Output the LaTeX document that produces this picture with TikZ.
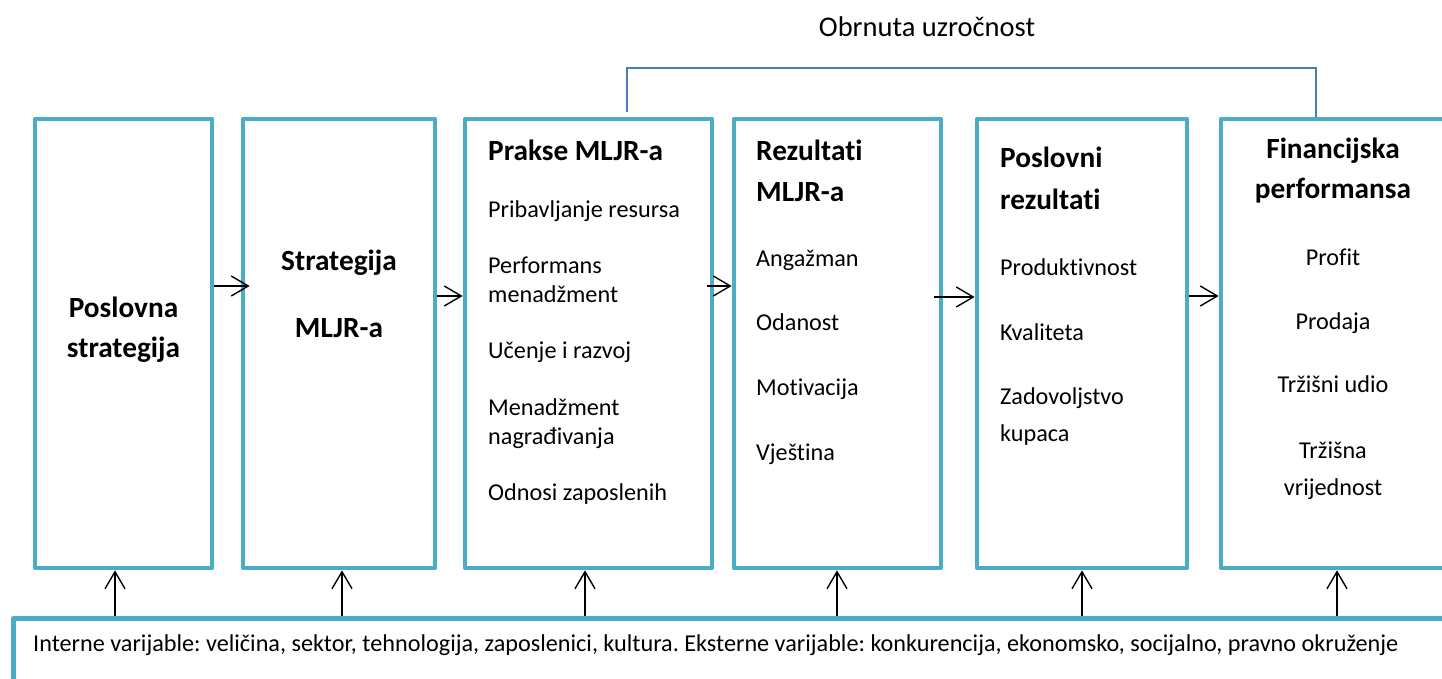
\documentclass[tikz,border=0pt]{standalone}
\usepackage{fontspec}
\setmainfont{Carlito}[Ligatures={NoCommon}]
\usetikzlibrary{arrows.meta}
\definecolor{boxblue}{HTML}{4BACC6}
\definecolor{linkblue}{HTML}{4A7EBB}
\frenchspacing
\begin{document}
\begin{tikzpicture}[x=1pt,y=-1pt,
  boxnode/.style={draw=boxblue,line width=4.7pt,line join=round,minimum height=449pt,inner sep=0pt},
  arr/.style={draw=black,line width=1.4pt,-{Straight Barb[length=17pt,width=20pt]}},
  rev/.style={draw=linkblue,line width=1.5pt},
  hd/.style={inner sep=0pt,font=\fontsize{29.3}{31}\selectfont\bfseries},
  it/.style={inner sep=0pt,font=\fontsize{24.2}{26}\selectfont},
  hdl/.style={hd,anchor=base west},
  itl/.style={it,anchor=base west},
  hdc/.style={hd,anchor=base},
  itc/.style={it,anchor=base}]
\clip (0,0) rectangle (1442,679);
\fill[white] (0,0) rectangle (1442,679);
% boxes
\node[boxnode,minimum width=177pt] (b1) at (123.5,343.5) {};
\node[boxnode,minimum width=192pt] (b2) at (339,343.5) {};
\node[boxnode,minimum width=247pt] (b3) at (588.5,343.5) {};
\node[boxnode,minimum width=207pt] (b4) at (837.5,343.5) {};
\node[boxnode,minimum width=210pt] (b5) at (1082,343.5) {};
\node[boxnode,minimum width=224pt] (b6) at (1333,343.5) {};
\node[draw=boxblue,line width=4.7pt,line join=round,inner sep=0pt,minimum width=1450pt,minimum height=90pt,anchor=north west] (env) at (11,616) {};
% title and reverse link
\node[inner sep=0pt,font=\fontsize{28.5}{30}\selectfont,anchor=base] (title) at (927,37) {Obrnuta uzročnost};
\coordinate (r1) at (627,112);
\coordinate (r2) at (1316,68);
\draw[rev] (r1) |- (r2) -- (b6.north -| r2);
% box texts
\node[hdc] (t1a) at (123.5,317) {Poslovna};
\node[hdc] (t1b) at (123.5,357) {strategija};
\node[hdc] (t2a) at (339,270) {Strategija};
\node[hdc] (t2b) at (339,337) {MLJR-a};
\node[hdl] (t3h) at (488,161) {Prakse MLJR-a};
\node[itl] (t3a) at (488,217) {Pribavljanje resursa};
\node[itl] (t3b) at (488,273) {Performans};
\node[itl] (t3c) at (488,302) {menadžment};
\node[itl] (t3d) at (488,358) {Učenje i razvoj};
\node[itl] (t3e) at (488,415) {Menadžment};
\node[itl] (t3f) at (488,444) {nagrađivanja};
\node[itl] (t3g) at (488,500) {Odnosi zaposlenih};
\node[hdl] (t4h) at (756,161) {Rezultati};
\node[hdl] (t4i) at (756,201) {MLJR-a};
\node[itl] (t4a) at (756,266) {Angažman};
\node[itl] (t4b) at (756,330) {Odanost};
\node[itl] (t4c) at (756,395) {Motivacija};
\node[itl] (t4d) at (756,460) {Vještina};
\node[hdl] (t5h) at (1000,168) {Poslovni};
\node[hdl] (t5i) at (1000,209) {rezultati};
\node[itl] (t5a) at (1000,275) {Produktivnost};
\node[itl] (t5b) at (1000,340) {Kvaliteta};
\node[itl] (t5c) at (1000,404) {Zadovoljstvo};
\node[itl] (t5d) at (1000,441) {kupaca};
\node[hdc] (t6h) at (1333,159) {Financijska};
\node[hdc] (t6i) at (1333,199) {performansa};
\node[itc] (t6a) at (1333,265) {Profit};
\node[itc] (t6b) at (1333,329) {Prodaja};
\node[itc] (t6c) at (1333,392) {Tržišni udio};
\node[itc] (t6d) at (1333,458) {Tržišna};
\node[itc] (t6e) at (1333,495) {vrijednost};
\node[itl] (tenv) at (33,651) {Interne varijable: veličina, sektor, tehnologija, zaposlenici, kultura. Eksterne varijable: konkurencija, ekonomsko, socijalno, pravno okruženje};
% horizontal arrows
\coordinate (h1) at (0,286);
\coordinate (h2) at (0,296);
\coordinate (h3) at (0,286);
\coordinate (h4) at (0,297);
\coordinate (h5) at (0,296);
\draw[arr] (b1.east |- h1) -- ([xshift=9pt]b2.west |- h1);
\draw[arr] (b2.east |- h2) -- (b3.west |- h2);
\draw[arr] ([xshift=-7pt]b3.east |- h3) -- (b4.west |- h3);
\draw[arr] ([xshift=-9pt]b4.east |- h4) -- (b5.west |- h4);
\draw[arr] (b5.east |- h5) -- (b6.west |- h5);
% vertical arrows
\coordinate (v1) at (115,0);
\coordinate (v2) at (342,0);
\coordinate (v3) at (585,0);
\coordinate (v4) at (837,0);
\coordinate (v5) at (1082,0);
\coordinate (v6) at (1337,0);
\draw[arr] (env.north -| v1) -- (b1.south -| v1);
\draw[arr] (env.north -| v2) -- (b2.south -| v2);
\draw[arr] (env.north -| v3) -- (b3.south -| v3);
\draw[arr] (env.north -| v4) -- (b4.south -| v4);
\draw[arr] (env.north -| v5) -- (b5.south -| v5);
\draw[arr] (env.north -| v6) -- (b6.south -| v6);
\end{tikzpicture}
\end{document}
